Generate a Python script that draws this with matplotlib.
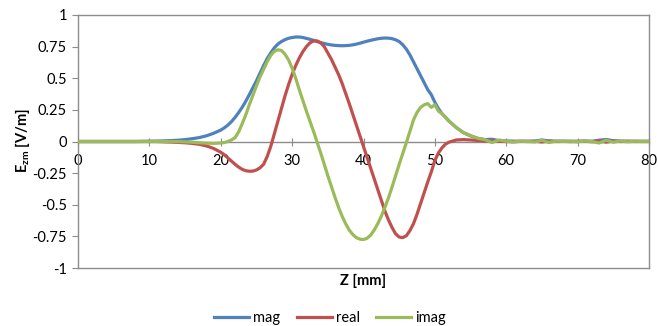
import matplotlib
matplotlib.use('Agg')
import matplotlib.pyplot as plt
import numpy as np

FIG_DPI = 100

plt.rcParams['font.family'] = ['Lato', 'DejaVu Sans']
plt.rcParams['mathtext.fontset'] = 'custom'
plt.rcParams['mathtext.rm'] = 'Lato'
plt.rcParams['mathtext.bf'] = 'Lato:bold'

# sample positions (mm): 1 mm steps, 0.5 mm through the main peaks
z_mm = np.concatenate([np.arange(0, 20), np.arange(20, 52.5, 0.5), np.arange(53, 81)])

# field values (V/m)
mag = [0, 0, 0, 0, 0, 0, 0, 0, 0, 0.001,
       0.002, 0.003, 0.005, 0.007, 0.01, 0.015, 0.022, 0.031, 0.045, 0.065,
       # 20 .. 52 step 0.5
       0.09, 0.108, 0.13, 0.157, 0.19, 0.228, 0.27, 0.318, 0.37, 0.425,
       0.48, 0.54, 0.60, 0.655, 0.70, 0.74, 0.77, 0.79, 0.805, 0.816,
       0.822, 0.826, 0.826, 0.822, 0.815, 0.808, 0.80, 0.79, 0.782, 0.775,
       0.768, 0.763, 0.76, 0.758, 0.757, 0.758, 0.76, 0.764, 0.77, 0.777,
       0.785, 0.793, 0.80, 0.806, 0.812, 0.816, 0.818, 0.817, 0.813, 0.804,
       0.79, 0.765, 0.73, 0.685, 0.63, 0.575, 0.52, 0.465, 0.41, 0.37,
       0.31, 0.26, 0.22, 0.19, 0.16,
       # 53 .. 80
       0.11, 0.07, 0.045, 0.025, 0.015, 0.018, 0.006, 0.004,
       0.003, 0.002, 0.002, 0.003, 0.012, 0.004, 0.002, 0.002, 0.002, 0.002,
       0.003, 0.002, 0.01, 0.016, 0.006, 0.003, 0.002, 0.002, 0.002, 0.002]

real = [0, 0, 0, 0, 0, 0, 0, 0, 0, 0,
        0, 0, -0.002, -0.004, -0.007, -0.01, -0.015, -0.022, -0.035, -0.055,
        -0.085, -0.105, -0.13, -0.155, -0.18, -0.202, -0.22, -0.231, -0.235, -0.234,
        -0.225, -0.208, -0.18, -0.12, -0.04, 0.06, 0.16, 0.26, 0.36, 0.45,
        0.53, 0.60, 0.66, 0.71, 0.75, 0.78, 0.795, 0.795, 0.78, 0.75,
        0.70, 0.65, 0.59, 0.53, 0.46, 0.38, 0.30, 0.215, 0.13, 0.045,
        -0.04, -0.125, -0.21, -0.295, -0.38, -0.465, -0.55, -0.62, -0.68, -0.73,
        -0.755, -0.76, -0.745, -0.705, -0.65, -0.575, -0.49, -0.405, -0.32, -0.24,
        -0.15, -0.09, -0.05, -0.02, -0.005,
        0.012, 0.015, 0.012, 0.008, 0.004, 0.006, 0.001, 0.0,
        -0.002, 0.001, 0.0, 0.002, -0.004, 0.003, 0.0, 0.001, -0.001, 0.0,
        0.002, -0.002, 0.004, -0.005, 0.003, 0.0, 0.001, 0.0, 0.0, 0.0]

imag = [0, 0, 0, 0, 0, 0, 0, 0, 0, 0,
        0, 0, 0, 0, -0.001, -0.003, -0.006, -0.01, -0.013, -0.015,
        -0.012, -0.008, 0.0, 0.012, 0.03, 0.075, 0.14, 0.21, 0.29, 0.365,
        0.44, 0.51, 0.57, 0.63, 0.68, 0.712, 0.725, 0.72, 0.69, 0.645,
        0.58, 0.50, 0.41, 0.325, 0.24, 0.16, 0.08, -0.005, -0.09, -0.18,
        -0.27, -0.355, -0.44, -0.52, -0.59, -0.65, -0.70, -0.735, -0.76, -0.772,
        -0.775, -0.765, -0.74, -0.70, -0.65, -0.59, -0.52, -0.445, -0.36, -0.27,
        -0.18, -0.095, -0.01, 0.08, 0.17, 0.23, 0.27, 0.29, 0.30, 0.27,
        0.29, 0.24, 0.22, 0.19, 0.16,
        0.11, 0.07, 0.045, 0.025, 0.015, -0.008, 0.012, 0.002,
        -0.003, 0.002, 0.0, -0.004, 0.01, -0.008, 0.003, 0.0, 0.002, -0.002,
        0.003, 0.0, -0.012, 0.01, -0.006, 0.004, -0.003, 0.002, 0.0, 0.0]

series = [('mag', mag, '#4F81BD'), ('real', real, '#C0504D'), ('imag', imag, '#9BBB59')]

fig = plt.figure(figsize=(6.58, 3.26), dpi=FIG_DPI)
ax = fig.add_axes([78 / 658, 1 - 268 / 326, (649 - 78) / 658, (268 - 15) / 326])

for name, vals, col in series:
    ax.plot(z_mm, vals, color=col, lw=2.3, label=name, zorder=3)

ax.set_xlim(0, 80)
ax.set_ylim(-1, 1)
ax.set_xticks(np.arange(0, 81, 10))
ax.set_yticks([-1, -0.75, -0.5, -0.25, 0, 0.25, 0.5, 0.75, 1])
ax.set_yticklabels(['-1', '-0.75', '-0.5', '-0.25', '0', '0.25', '0.5', '0.75', '1'])

frame_col = '#8C8C8C'
for s in ['top', 'left', 'right', 'bottom']:
    ax.spines[s].set_color(frame_col)
    ax.spines[s].set_linewidth(1.0)
ax.spines['bottom'].set_position(('data', 0))
ax.axhline(-1, color=frame_col, lw=1.0, clip_on=False, zorder=0)

ax.tick_params(axis='x', direction='inout', length=6, color=frame_col, pad=6, labelsize=10.5)
ax.tick_params(axis='y', direction='out', length=4, color=frame_col, pad=4, labelsize=10.5)

fig.text(363 / 658, 1 - 281 / 326, 'Z [mm]', ha='center', va='center', fontsize=10.5, fontweight='bold')
fig.text(22 / 658, 1 - 141 / 326, r'$\mathbf{E_{zm}}$ [V/m]', ha='center', va='center',
         rotation=90, fontsize=10.5, fontweight='bold')

fig.legend(loc='center', bbox_to_anchor=(330 / 658, 1 - 318 / 326), ncol=3, frameon=False,
           fontsize=10.5, handlelength=2.4, handletextpad=0.3, columnspacing=1.1)

fig.savefig('out.png', dpi=FIG_DPI)
plt.close(fig)
